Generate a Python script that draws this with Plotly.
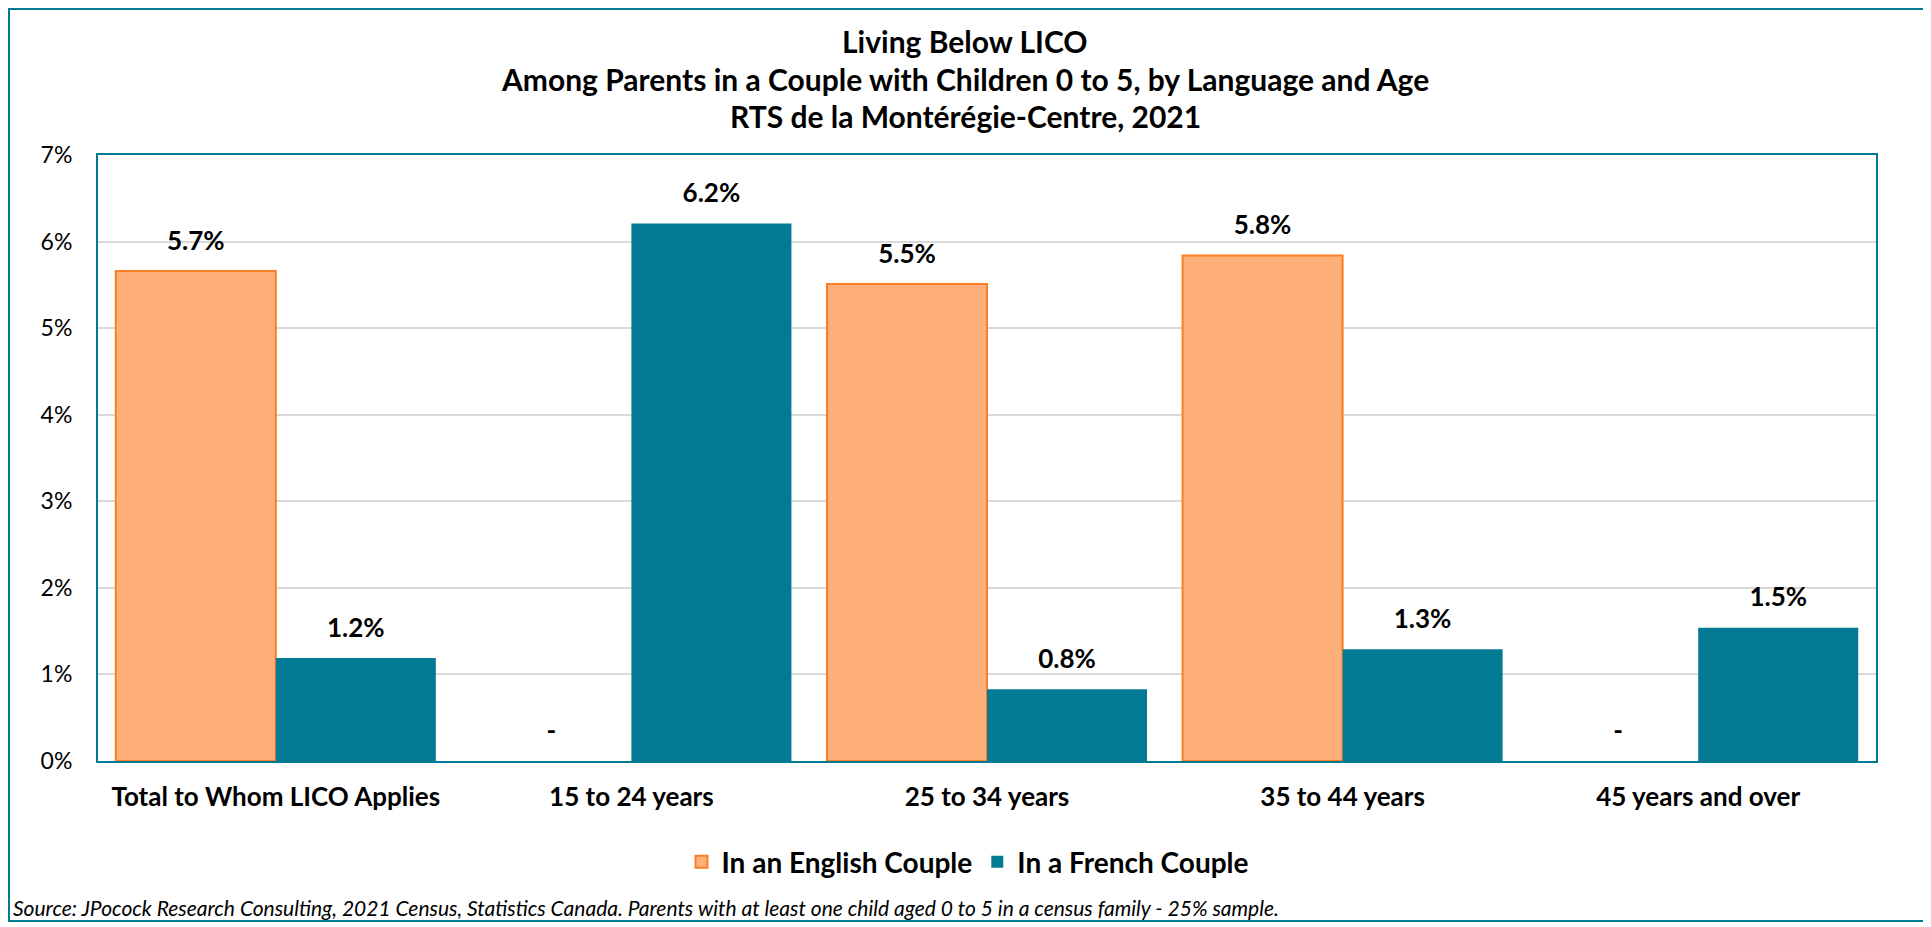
"""Living below LICO among parents in a couple, by language and age."""
import plotly.graph_objects as go

# Data
categories = ["Total to Whom LICO Applies", "15 to 24 years", "25 to 34 years",
              "35 to 44 years", "45 years and over"]
english = [5.66, 0, 5.51, 5.84, 0]
french = [1.19, 6.21, 0.83, 1.29, 1.54]
english_labels = ["5.7%", "-", "5.5%", "5.8%", "-"]
french_labels = ["1.2%", "6.2%", "0.8%", "1.3%", "1.5%"]
y_ticks = [0, 1, 2, 3, 4, 5, 6, 7]
title_lines = ["Living Below LICO",
               "Among Parents in a Couple with Children 0 to 5, by Language and Age",
               "RTS de la Montérégie-Centre, 2021"]
source_note = ("Source: JPocock Research Consulting, 2021 Census, Statistics Canada. "
               "Parents with at least one child aged 0 to 5 in a census family - 25% sample.")

FONT = "Lato"
TEAL = "#037A94"
ORANGE_FILL = "#FFB07A"
ORANGE_LINE = "#FA7E24"

# page body has an 8px margin, so the figure is a bit smaller than the window
W, H = 1923, 919
L, R, T, B = 90, 55, 147, 166
PW, PH = W - L - R, H - T - B


def px(x):
    return (x - L) / PW


def py(y):
    return (H - B - y) / PH


fig = go.Figure()

fig.add_trace(go.Bar(
    x=categories, y=english, name="In an English Couple",
    marker=dict(color=ORANGE_FILL,
                line=dict(color=ORANGE_LINE, width=[2 if v else 0 for v in english])),
))
fig.add_trace(go.Bar(
    x=categories, y=french, name="In a French Couple",
    marker=dict(color=TEAL, line=dict(color=TEAL, width=0)),
))

# data labels: invisible markers push the text up off the bar tops
for vals, labels in [(english, english_labels), (french, french_labels)]:
    fig.add_trace(go.Scatter(
        x=categories, y=vals, mode="markers+text",
        marker=dict(size=22, opacity=0),
        text=labels, textposition="top center", cliponaxis=False,
        textfont=dict(family=FONT, size=26, color="#000000", weight="bold"),
        showlegend=False, hoverinfo="skip",
    ))

# Title lines as separate annotations to control line spacing
title_y = [33, 71, 108]
annotations = []
for line, ypx in zip(title_lines, title_y):
    annotations.append(dict(
        text=f"<b>{line}</b>", xref="paper", yref="paper",
        x=px(957), y=py(ypx),
        xanchor="center", yanchor="middle", showarrow=False,
        font=dict(family=FONT, size=30, color="#000000"),
    ))
annotations.append(dict(
    text=f"<i>{source_note}</i>", xref="paper", yref="paper",
    x=px(3), y=py(899),
    xanchor="left", yanchor="middle", showarrow=False,
    font=dict(family=FONT, size=21, color="#000000"),
))

fig.update_layout(
    width=W, height=H,
    margin=dict(l=L, r=R, t=T, b=B, autoexpand=False),
    paper_bgcolor="white", plot_bgcolor="white",
    barmode="group", bargap=0.1, bargroupgap=0,
    scattermode="group", scattergap=0.1,
    font=dict(family=FONT, color="#000000"),
    showlegend=True,
    legend=dict(
        orientation="h", x=px(960), xanchor="center",
        y=py(854), yanchor="middle",
        font=dict(family=FONT, size=28, weight="bold"),
        traceorder="normal",
    ),
    annotations=annotations,
    shapes=[dict(
        type="rect", xref="paper", yref="paper",
        x0=px(1), x1=px(1916), y0=py(913), y1=py(1),
        line=dict(color=TEAL, width=2), fillcolor="rgba(0,0,0,0)", layer="below",
    )],
    xaxis=dict(
        showline=True, mirror=True, linecolor=TEAL, linewidth=2,
        showgrid=False, ticks="", ticklabelstandoff=12,
        tickfont=dict(family=FONT, size=26, weight="bold"),
    ),
    yaxis=dict(
        range=[0, 7], tickvals=y_ticks, ticktext=[f"{v}%" for v in y_ticks],
        showline=True, mirror=True, linecolor=TEAL, linewidth=2,
        showgrid=True, gridcolor="#D9D9D9", gridwidth=1.5,
        zeroline=False, ticks="", ticklabelstandoff=19,
        tickfont=dict(family=FONT, size=23),
    ),
)

fig.write_html("out.html")
